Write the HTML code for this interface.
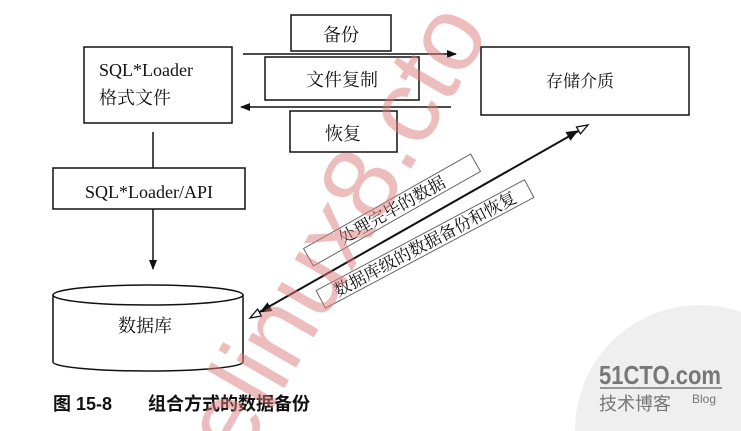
<!DOCTYPE html>
<html><head><meta charset="utf-8"><style>
html,body{margin:0;padding:0;background:#fff;overflow:hidden;width:741px;height:431px;}
svg{display:block;}
text{font-family:"Liberation Serif","Noto Serif CJK SC","Noto Sans CJK SC",serif;fill:#111;}
</style></head><body>
<svg width="741" height="431" viewBox="0 0 741 431" xmlns="http://www.w3.org/2000/svg" overflow="hidden">
<defs>
<marker id="fa" markerWidth="10" markerHeight="8" refX="9" refY="4" orient="auto" markerUnits="userSpaceOnUse"><path d="M0,0 L10,4 L0,8 Z" fill="#111"/></marker>
<clipPath id="cp"><rect x="0" y="0" width="741" height="431"/></clipPath>
</defs>
<g clip-path="url(#cp)">
<circle cx="700" cy="430" r="125" fill="#efefef"/>
<g stroke="#111" stroke-width="1.5" fill="#fff">
<rect x="84" y="47" width="148" height="76"/>
<rect x="291" y="15" width="100" height="36"/>
<rect x="265" y="57" width="154" height="43"/>
<rect x="290" y="111" width="107" height="41"/>
<rect x="481" y="47" width="208" height="68"/>
<rect x="53" y="168" width="192" height="41"/>
</g>
<g stroke="#111" stroke-width="1.5" fill="none">
<line x1="243" y1="54" x2="456" y2="54" marker-end="url(#fa)"/>
<line x1="451" y1="107" x2="241" y2="107" marker-end="url(#fa)"/>
<line x1="153" y1="132" x2="153" y2="168"/>
<line x1="153" y1="209" x2="153" y2="269" marker-end="url(#fa)"/>
<path d="M53,295 L53,362 A95,9 0 0 0 243,362 L243,295" fill="#fff"/>
<ellipse cx="148" cy="295" rx="95" ry="10" fill="#fff"/>
<line x1="256" y1="314" x2="582" y2="129" stroke-width="2"/>
</g>
<g transform="translate(250,318) rotate(-29.6)">
<path d="M0,0 L11,-4 L11,4 Z" fill="#fff" stroke="#111" stroke-width="1.3"/>
<path d="M11,0 L23,-5 L23,5 Z" fill="#111"/>
</g>
<g transform="translate(588,125) rotate(150.4)">
<path d="M0,0 L11,-4 L11,4 Z" fill="#fff" stroke="#111" stroke-width="1.3"/>
<path d="M11,0 L23,-5 L23,5 Z" fill="#111"/>
</g>
<g transform="translate(392,210) rotate(-29.5)">
<rect x="-96" y="-10" width="192" height="20" fill="#fff" stroke="#666" stroke-width="1"/>
<text x="0" y="6" font-size="17" text-anchor="middle">处理完毕的数据</text>
</g>
<g transform="translate(425,244) rotate(-28)">
<rect x="-118" y="-10" width="236" height="20" fill="#fff" stroke="#666" stroke-width="1"/>
<text x="0" y="6" font-size="17" text-anchor="middle">数据库级的数据备份和恢复</text>
</g>
<text x="99" y="76" font-size="18">SQL*Loader</text>
<text x="99" y="104" font-size="18">格式文件</text>
<text x="341" y="41" font-size="18" text-anchor="middle">备份</text>
<text x="342" y="86" font-size="18" text-anchor="middle">文件复制</text>
<text x="343" y="140" font-size="18" text-anchor="middle">恢复</text>
<text x="580" y="87" font-size="17" text-anchor="middle">存储介质</text>
<text x="149" y="198" font-size="18" text-anchor="middle">SQL*Loader/API</text>
<text x="145" y="332" font-size="18" text-anchor="middle">数据库</text>
<text x="53" y="410" font-size="18" font-weight="bold" style="font-family:'Liberation Sans','Noto Sans CJK SC',sans-serif">图 15-8</text>
<text x="148" y="410" font-size="18" font-weight="bold" style="font-family:'Liberation Sans','Noto Sans CJK SC',sans-serif">组合方式的数据备份</text>
<text x="660" y="384" font-size="26" font-weight="bold" text-anchor="middle" style="font-family:'Liberation Sans',sans-serif;fill:#777" textLength="122" lengthAdjust="spacingAndGlyphs">51CTO.com</text>
<line x1="600" y1="388" x2="722" y2="388" stroke="#777" stroke-width="1.5"/>
<text x="599" y="410" font-size="18" style="font-family:'Noto Sans CJK SC',sans-serif;fill:#777">技术博客</text>
<text x="692" y="403" font-size="12" style="font-family:'Liberation Sans',sans-serif;fill:#777">Blog</text>
<text transform="translate(240,465) rotate(-60)" font-size="105" style="font-family:'Liberation Sans',sans-serif;fill:#dc7a7a;fill-opacity:0.5">elinux8.cto</text>
</g>
</svg>
</body></html>
